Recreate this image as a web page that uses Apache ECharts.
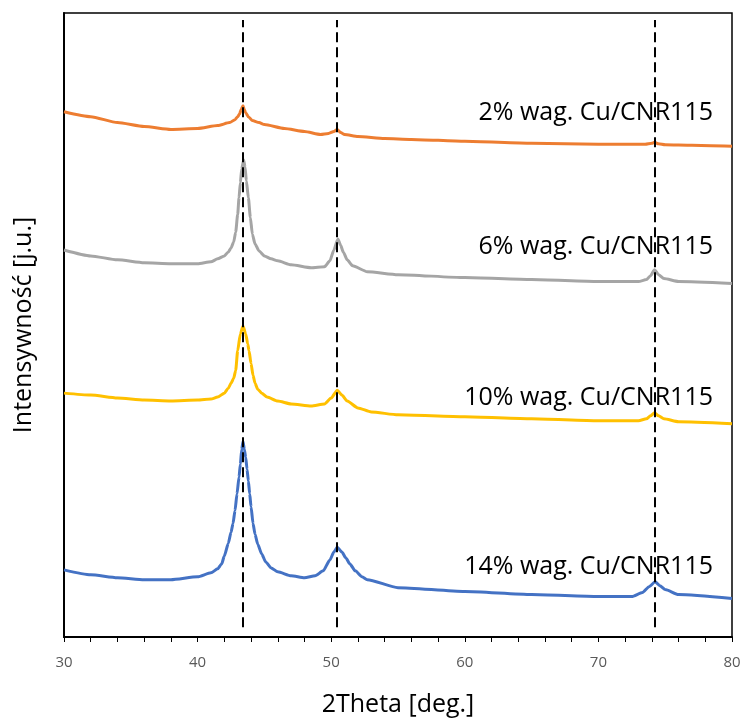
<!DOCTYPE html>
<html>
<head>
<meta charset="utf-8">
<script src="https://cdn.jsdelivr.net/npm/echarts@6/dist/echarts.min.js"></script>
<style>html,body{margin:0;padding:0;background:#fff}#c{width:744px;height:722px}</style>
</head>
<body>
<div id="c"></div>
<script>
// 2Theta (deg.) / intensity (arbitrary units, offset stacked)
var orangeX = [30,32,34,36,38,40,41.5,42.4,42.8,43.0,43.15,43.25,43.4,43.5,43.6,43.8,44.1,44.6,45,46.5,48,49.2,49.8,50.2,50.45,50.7,51.0,52,54,56,60,65,70,73.5,74.0,74.2,74.5,75,77,80];
var orangeY = [532,527,521,517,514,515,518,521,524,527,530,534,538,534,531,527,523,521,519,515,512,509,510,512,514,511,509,507,505,504,502,500,499,499,500,501,499.5,498.5,498,497];

var grayX = [30,32,34,36,38,40,41,41.5,42.0,42.3,42.5,42.7,42.85,43.0,43.1,43.2,43.3,43.45,43.55,43.65,43.8,43.95,44.1,44.3,44.6,45.0,45.5,46,47,48.5,49.5,49.9,50.2,50.5,50.7,50.9,51.2,51.6,52.7,55,60,65,70,73,73.6,73.9,74.2,74.5,74.9,76,80];
var grayY = [392,386,382,379,378,378,380,383,386,390,394,400,410,428,445,460,474,483,476,462,445,425,408,398,391,386,383,381,377,374,375,381,392,403,397,390,382,376,370,367,364,362,360,360,362,366,372,367,363,360,358];

var yellowX = [30,32,34,36,38,40,41,41.5,42.0,42.3,42.5,42.7,42.85,43.0,43.2,43.4,43.6,43.75,43.85,44.0,44.15,44.3,44.5,44.8,45.2,46,47,48.5,49.5,50,50.45,50.8,51.2,52,53,55,60,65,70,73,73.6,73.9,74.2,74.5,74.9,76,80];
var yellowY = [247,245,242,240,239,240,241,243,247,252,257,262,270,290,307,315,307,297,290,277,265,257,251,247,243,239,236,234,236,242,250,245,239,232,228,225,223,221,219,219,221,224,227,224,221,218,216];

var blueX = [30,32,34,36,38,40,41,41.5,41.8,42.0,42.3,42.5,42.65,42.8,42.95,43.1,43.2,43.3,43.4,43.5,43.6,43.7,43.8,43.9,44.0,44.15,44.3,44.5,44.8,45.1,45.5,46,47,48,48.8,49.4,49.9,50.2,50.45,50.8,51.1,51.4,51.8,52.3,52.7,55,60,65,70,72.5,73.3,73.8,74.25,74.6,75,76,80];
var blueY = [68,63,60,58,58,61,65,69,74,82,95,106,115,128,145,162,175,190,198,190,182,170,158,145,132,115,104,94,84,76,70,66,62,60,62,67,78,86,91,86,80,74,67,61,58,50,46,43,41,41,45,51,56,52,48,43,39];

var seriesNames = ['2% wag. Cu/CNR115','6% wag. Cu/CNR115','10% wag. Cu/CNR115','14% wag. Cu/CNR115'];
var peakPositions = [43.35, 50.45, 74.2];
var xTicks = [30,40,50,60,70,80];

function pairs(xs, ys){ var out=[]; for(var i=0;i<xs.length;i++) out.push([xs[i], ys[i]]); return out; }

var chart = echarts.init(document.getElementById('c'), null, {renderer:'canvas'});
var font = '"Open Sans", "Noto Sans", sans-serif';
var colors = ['#ED7D31','#A5A5A5','#FFC000','#4472C4'];
var datasets = [pairs(orangeX,orangeY), pairs(grayX,grayY), pairs(yellowX,yellowY), pairs(blueX,blueY)];
var labelY = [110, 244, 395, 564];

var series = datasets.map(function(d,i){
  return {
    name: seriesNames[i], type:'line', data:d, showSymbol:false, symbol:'none',
    smooth:0.2, smoothMonotone:'x',
    lineStyle:{color:colors[i], width:3}, itemStyle:{color:colors[i]}, z:2
  };
});
series.push({
  type:'line', data:[], silent:true,
  markLine:{
    silent:true, symbol:['none','none'], label:{show:false},
    lineStyle:{color:'#000', type:[10,5], width:2},
    data: peakPositions.map(function(p){ return [{coord:[p,10]},{coord:[p,625]}]; })
  }, z:3
});

chart.setOption({
  animation:false,
  backgroundColor:'#fff',
  grid:{left:64, right:12, top:13, bottom:77, show:true, borderColor:'#000', borderWidth:1.5, backgroundColor:'transparent'},
  xAxis:{
    type:'value', min:xTicks[0], max:xTicks[xTicks.length-1], interval:10,
    name:'2Theta [deg.]', nameLocation:'middle', nameGap:55,
    nameTextStyle:{fontFamily:font, fontSize:25, color:'#000'},
    axisLine:{show:true, lineStyle:{color:'#000', width:2}},
    axisTick:{show:true, length:5, lineStyle:{color:'#000', width:1}},
    minorTick:{show:true, splitNumber:5, length:5, lineStyle:{color:'#000', width:1}},
    axisLabel:{fontFamily:font, fontSize:15, color:'#595959', margin:18},
    splitLine:{show:false}
  },
  yAxis:{
    type:'value', min:0, max:632,
    name:'Intensywność [j.u.]', nameLocation:'middle', nameGap:28, nameRotate:90,
    nameTextStyle:{fontFamily:font, fontSize:25, color:'#000'},
    axisLine:{show:true, lineStyle:{color:'#000', width:2}},
    axisTick:{show:false}, axisLabel:{show:false}, splitLine:{show:false}
  },
  graphic: seriesNames.map(function(n,i){
    return {type:'text', right:31, top:labelY[i]-10, z:10,
      style:{text:n, fontFamily:font, fontSize:25, fill:'#000', textAlign:'right'}};
  }),
  series: series
});
</script>
</body>
</html>
